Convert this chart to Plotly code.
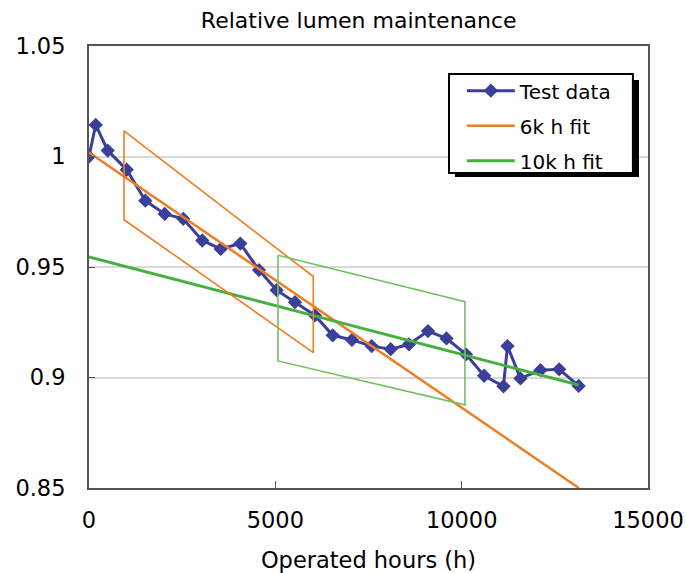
import plotly.graph_objects as go

# Test data (operated hours, relative lumen)
hours = [0, 180, 502, 1012, 1511, 2031, 2530, 3040, 3534, 4060, 4561, 5036, 5527,
         6064, 6539, 7056, 7585, 8095, 8586, 9096, 9592, 10115, 10603, 11121,
         11229, 11577, 12114, 12618, 13139]
lumen = [1.000, 1.0143, 1.0027, 0.994, 0.980, 0.974, 0.9718, 0.962, 0.9582, 0.9606,
         0.9486, 0.9395, 0.9341, 0.9281, 0.9191, 0.917, 0.9142, 0.9128, 0.915,
         0.921, 0.9177, 0.9105, 0.9008, 0.896, 0.9142, 0.8996, 0.9033, 0.9037, 0.8962]

# Fit lines
fit6k_x = [0, 13144]
fit6k_y = [1.0018, 0.85]
fit10k_x = [0, 13139]
fit10k_y = [0.9546, 0.8966]

# Highlight boxes (parallelograms)
box6k_x = [939, 6018, 6018, 939, 939]
box6k_y = [1.0116, 0.9457, 0.9113, 0.9714, 1.0116]
box10k_x = [5071, 10088, 10088, 5071, 5071]
box10k_y = [0.9553, 0.9343, 0.8876, 0.9075, 0.9553]

x_ticks = [0, 5000, 10000, 15000]
y_ticks = [0.85, 0.9, 0.95, 1.0, 1.05]
y_ticktext = ["0.85", "0.9", "0.95", "1", "1.05"]

BLUE = "#3A3F99"
ORANGE = "#EF7D22"
GREEN = "#45B03D"
GREEN_BOX = "#72C264"

FONT = "DejaVu Sans"

fig = go.Figure()
fig.add_trace(go.Scatter(x=hours, y=lumen, mode="lines+markers", name="Test data",
                         line=dict(color=BLUE, width=3),
                         marker=dict(symbol="diamond", size=11, color=BLUE),
                         legendgroup="a", legendrank=1))
fig.add_trace(go.Scatter(x=fit6k_x, y=fit6k_y, mode="lines", name="6k h fit",
                         line=dict(color=ORANGE, width=2.5),
                         legendgroup="b", legendrank=2))
fig.add_trace(go.Scatter(x=fit10k_x, y=fit10k_y, mode="lines", name="10k h fit",
                         line=dict(color=GREEN, width=3),
                         legendgroup="c", legendrank=3))
fig.add_trace(go.Scatter(x=box6k_x, y=box6k_y, mode="lines", showlegend=False,
                         line=dict(color=ORANGE, width=1.6), hoverinfo="skip"))
fig.add_trace(go.Scatter(x=box10k_x, y=box10k_y, mode="lines", showlegend=False,
                         line=dict(color=GREEN_BOX, width=1.6), hoverinfo="skip"))

# legend shadow and frame
fig.add_shape(type="rect", xref="paper", yref="paper",
              x0=0.6547, x1=0.9839, y0=0.7036, y1=0.9231,
              fillcolor="black", line=dict(width=0), layer="above")
fig.add_shape(type="rect", xref="paper", yref="paper",
              x0=0.644, x1=0.973, y0=0.7127, y1=0.9367,
              fillcolor="white", line=dict(color="black", width=2), layer="above")

fig.update_layout(
    width=686, height=573,
    margin=dict(l=89, r=38, t=46, b=85, autoexpand=False),
    paper_bgcolor="white", plot_bgcolor="white",
    font=dict(family=FONT, color="black"),
    title=dict(text="Relative lumen maintenance", x=0.523, xanchor="center",
               y=0.965, yanchor="middle", font=dict(size=22, family=FONT)),
    showlegend=True,
    legend=dict(x=0.667, y=0.943, xanchor="left", yanchor="top",
                bgcolor="rgba(0,0,0,0)", borderwidth=0, itemwidth=48,
                font=dict(size=20, family=FONT), tracegroupgap=6,
                traceorder="grouped"),
    xaxis=dict(range=[0, 15000], tickvals=x_ticks, ticktext=[str(v) for v in x_ticks],
               showgrid=False, zeroline=False, showline=True, linecolor="#555555",
               linewidth=2, mirror=True, ticks="inside", ticklen=7, tickcolor="#555555",
               tickfont=dict(size=22.5), ticklabelstandoff=11, automargin=False,
               title=dict(text="Operated hours (h)", font=dict(size=22.5), standoff=22)),
    yaxis=dict(range=[0.85, 1.05], tickvals=y_ticks, ticktext=y_ticktext,
               showgrid=True, gridcolor="#D9D9D9", gridwidth=1.5, zeroline=False,
               showline=True, linecolor="#555555", linewidth=2, mirror=True,
               ticks="inside", ticklen=6, tickcolor="#555555", automargin=False,
               tickfont=dict(size=22.5), ticklabelstandoff=17),
)

fig.write_html("out.html")
